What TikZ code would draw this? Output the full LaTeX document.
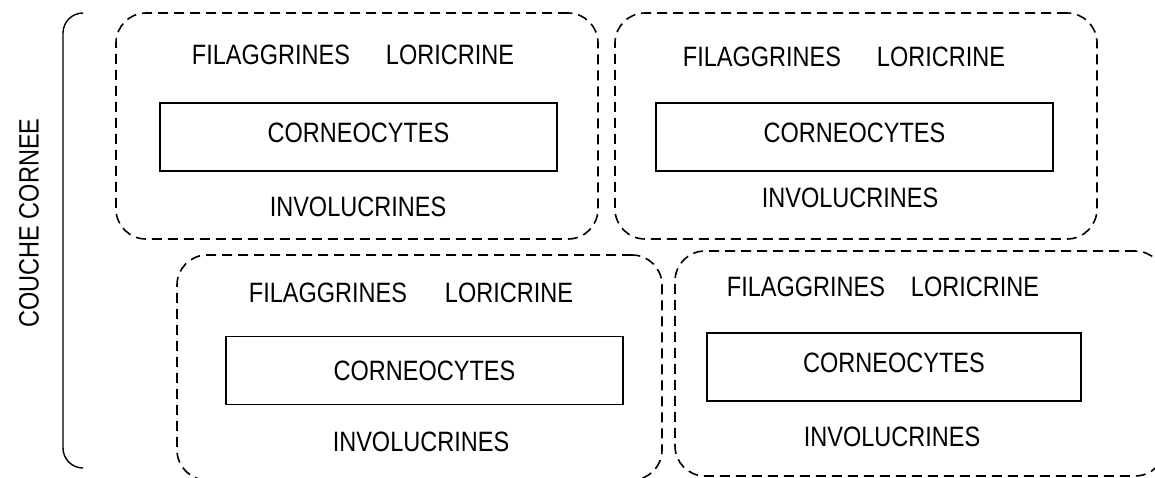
\documentclass[tikz,border=0pt]{standalone}
\usepackage{fontspec}
\setmainfont{Liberation Sans}[FakeStretch=0.84]
\usepackage{tikz}
\tikzset{
  groupbox/.style={draw,dashed,dash pattern=on 5pt off 3pt,line width=0.8pt,rounded corners=15pt},
  cellbox/.style={draw,line width=0.7pt,minimum height=34pt},
  lifted/.style={text height=10pt,text depth=5pt},
  protein/.style={inner sep=0pt}
}

\begin{document}
\begin{tikzpicture}[x=0.5pt,y=-0.5pt,font=\fontsize{14}{17}\selectfont]
		\useasboundingbox (0,0) rectangle (1155,477);
		\clip (0,0) rectangle (1155,477);

		% Layer name
		\node (layer) at (29,223) [rotate=90] {COUCHE CORNEE};
		\coordinate (btop) at (82,13);
		\coordinate (bbot) at (82,468);
		\draw[line width=0.7pt,rounded corners=10pt] (btop) -- (63,13) -- (63,468) -- (bbot);

		% Dashed groups
		\begin{scope}[every node/.style={groupbox}]
			\node (g1) at (357,126) [minimum width=241pt,minimum height=113pt] {};
			\node (g2) at (856,126) [minimum width=241pt,minimum height=113pt] {};
			\node (g3) at (419.5,367.5) [minimum width=242.5pt,minimum height=112.5pt] {};
			\node (g4) at (920,363.5) [minimum width=245pt,minimum height=112.5pt] {};
		\end{scope}

		% Corneocytes
		\begin{scope}[every node/.style={cellbox}]
			\node (c1) at (358.5,137) [minimum width=198.5pt,lifted] {CORNEOCYTES};
			\node (c2) at (854.5,137) [minimum width=198.5pt,lifted] {CORNEOCYTES};
			\node (c3) at (424.5,370.5) [minimum width=198.5pt] {CORNEOCYTES};
			\node (c4) at (894,367) [minimum width=187pt,lifted] {CORNEOCYTES};
		\end{scope}

		% Proteins
		\begin{scope}[every node/.style={protein}]
			\node (f1) at (271,55) {FILAGGRINES};
			\node (l1) at (450,55) {LORICRINE};
			\node (i1) at (358,207) {INVOLUCRINES};

			\node (f2) at (762,57) {FILAGGRINES};
			\node (l2) at (941,57) {LORICRINE};
			\node (i2) at (850,198) {INVOLUCRINES};

			\node (f3) at (328,293) {FILAGGRINES};
			\node (l3) at (509,293) {LORICRINE};
			\node (i3) at (421,442) {INVOLUCRINES};

			\node (f4) at (806,287) {FILAGGRINES};
			\node (l4) at (975,287) {LORICRINE};
			\node (i4) at (892,437) {INVOLUCRINES};
		\end{scope}
	\end{tikzpicture}
\end{document}
